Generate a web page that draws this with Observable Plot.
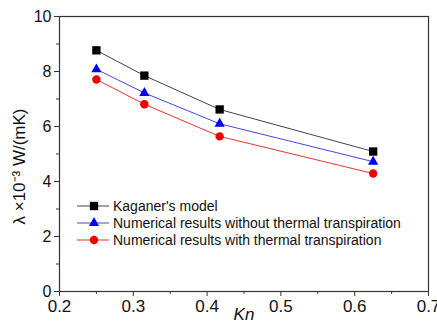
<!DOCTYPE html>
<html>
<head>
<meta charset="utf-8">
<script src="https://cdn.jsdelivr.net/npm/d3@7"></script>
<script src="https://cdn.jsdelivr.net/npm/@observablehq/plot@0.6"></script>
<style>
  html, body { margin: 0; padding: 0; background: #fff; }
  #chart { position: relative; width: 437px; height: 329px; font-family: "Liberation Sans", Arial, sans-serif; }
  #chart > svg { position: absolute; left: 0; top: 0; }
  .lrow { position: absolute; left: 75px; height: 18px; display: flex; align-items: center; white-space: nowrap; font-size: 14px; color: #111; }
  .lrow svg { margin-right: 3px; }
</style>
</head>
<body>
<div id="chart"></div>
<script>
// Knudsen numbers
const kn = [0.25, 0.315, 0.417, 0.625];
// Thermal conductivity, ×10^-3 W/(mK)
const kaganer = [8.77, 7.85, 6.62, 5.09];
const withoutTT = [8.08, 7.22, 6.10, 4.72];
const withTT = [7.71, 6.81, 5.64, 4.29];

const seriesNames = [
  "Kaganer's model",
  "Numerical results without thermal transpiration",
  "Numerical results with thermal transpiration"
];
const seriesColors = ["#000000", "#0000ee", "#ee0000"];
const lineColors = ["#444444", "#4444ee", "#ee3333"];
const seriesSymbols = ["square", "triangle", "circle"];
const symbolRadius = [4.7, 3.8, 4.2];

const xTicks = [0.2, 0.3, 0.4, 0.5, 0.6, 0.7];
const xMinor = [0.25, 0.35, 0.45, 0.55, 0.65];
const yTicks = [0, 2, 4, 6, 8, 10];
const yMinor = [1, 3, 5, 7, 9];

const allValues = [kaganer, withoutTT, withTT];
const rows = allValues.flatMap((vals, s) =>
  vals.map((v, i) => ({series: seriesNames[s], kn: kn[i], v}))
);

const font = "Liberation Sans, Arial, sans-serif";

const plot = Plot.plot({
  width: 437,
  height: 329,
  marginLeft: 59,
  marginRight: 9,
  marginTop: 16,
  marginBottom: 38,
  style: {fontFamily: font, fontSize: "16px", color: "#111", background: "transparent", overflow: "visible"},
  x: {domain: [0.2, 0.7]},
  y: {domain: [0, 10]},
  color: {domain: seriesNames, range: seriesColors},
  symbol: {domain: seriesNames, range: seriesSymbols},
  marks: [
    Plot.frame({stroke: "#333", strokeWidth: 1.2}),
    Plot.axisX({ticks: xTicks, tickSize: 5, tickPadding: 3, fontSize: 17, tickFormat: d => d.toFixed(1), label: null, stroke: "#333"}),
    Plot.axisX({ticks: xMinor, tickSize: 3, tickFormat: () => "", label: null, stroke: "#333"}),
    Plot.axisY({ticks: yTicks, tickSize: 5, tickPadding: 3, fontSize: 16, tickFormat: d => String(d), label: null, stroke: "#333"}),
    Plot.axisY({ticks: yMinor, tickSize: 3, tickFormat: () => "", label: null, stroke: "#333"}),
    ...seriesNames.map((name, s) =>
      Plot.line(rows.filter(d => d.series === name), {x: "kn", y: "v", stroke: lineColors[s], strokeWidth: 1})
    ),
    ...seriesNames.map((name, s) =>
      Plot.dot(rows.filter(d => d.series === name), {x: "kn", y: "v", symbol: "series", fill: "series", r: symbolRadius[s]})
    ),
    Plot.text(["λ ×10⁻³ W/(mK)"], {frameAnchor: "left", textAnchor: "middle", rotate: -90, dx: -40, dy: 12.5, fontSize: 17, fill: "#111"}),
    Plot.text(["Kn"], {frameAnchor: "bottom", dy: 28, fontSize: 17, fontStyle: "italic", fill: "#111"})
  ]
});

const chart = document.getElementById("chart");
chart.appendChild(plot);

// Legend: short line with its marker, then the series name
const rowCenters = [205.7, 222.9, 240.2];
seriesNames.forEach((name, s) => {
  const row = d3.select(chart).append("div").attr("class", "lrow")
    .style("top", (rowCenters[s] - 9) + "px");
  const svg = row.append("svg").attr("width", 35).attr("height", 12);
  svg.append("line").attr("x1", 2).attr("x2", 34).attr("y1", 6).attr("y2", 6)
    .attr("stroke", lineColors[s]).attr("stroke-width", 1);
  const sym = d3.symbol().type(
    seriesSymbols[s] === "square" ? d3.symbolSquare :
    seriesSymbols[s] === "triangle" ? d3.symbolTriangle : d3.symbolCircle
  ).size(Math.PI * symbolRadius[s] * symbolRadius[s]);
  svg.append("path").attr("d", sym()).attr("transform", "translate(19,6)").attr("fill", seriesColors[s]);
  row.append("span").text(name);
});
</script>
</body>
</html>
